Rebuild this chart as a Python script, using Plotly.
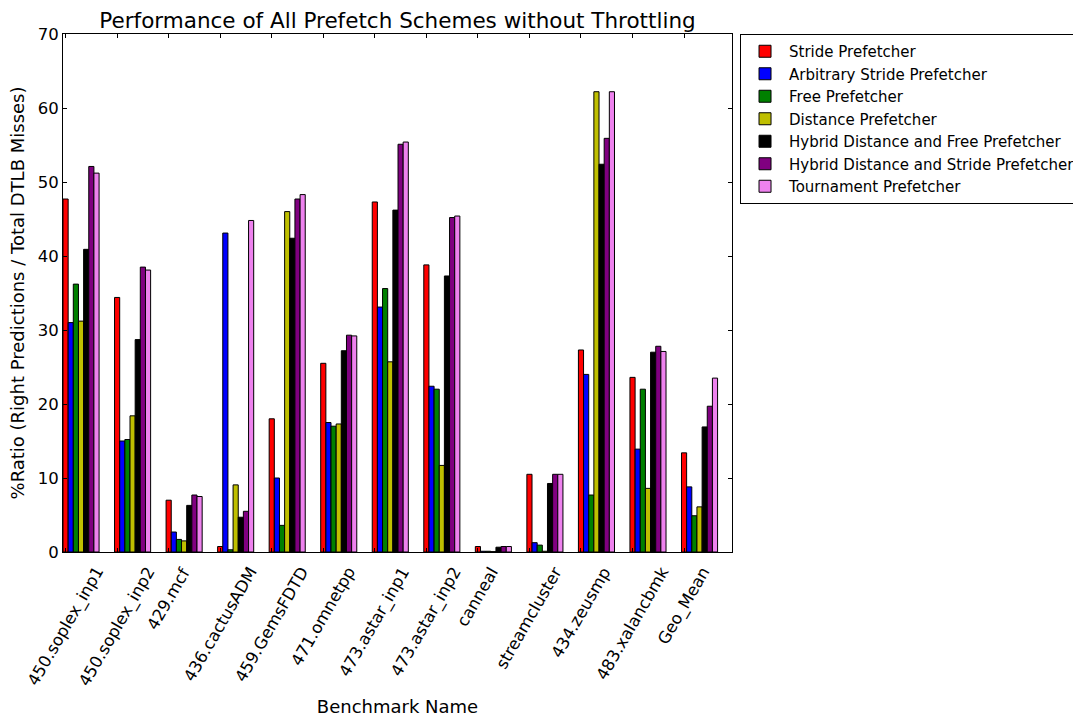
import plotly.graph_objects as go
import numpy as np

categories = ["450.soplex_inp1", "450.soplex_inp2", "429.mcf", "436.cactusADM",
              "459.GemsFDTD", "471.omnetpp", "473.astar_inp1", "473.astar_inp2",
              "canneal", "streamcluster", "434.zeusmp", "483.xalancbmk", "Geo_Mean"]

stride = [47.7, 34.4, 7.0, 0.74, 18.0, 25.5, 47.3, 38.8, 0.74, 10.5, 27.3, 23.6, 13.4]
arbitrary_stride = [31.0, 15.0, 2.7, 43.1, 10.0, 17.5, 33.1, 22.4, 0.1, 1.26, 24.0, 13.9, 8.8]
free = [36.2, 15.2, 1.7, 0.3, 3.6, 17.0, 35.6, 22.0, 0.1, 0.93, 7.7, 22.0, 4.9]
distance = [31.2, 18.4, 1.5, 9.07, 46.0, 17.3, 25.7, 11.7, 0.05, 0.1, 62.2, 8.6, 6.1]
hybrid_dist_free = [40.9, 28.7, 6.3, 4.7, 42.4, 27.2, 46.2, 37.3, 0.65, 9.26, 52.4, 27.0, 16.9]
hybrid_dist_stride = [52.1, 38.5, 7.7, 5.5, 47.7, 29.3, 55.1, 45.2, 0.74, 10.5, 55.9, 27.8, 19.7]
tournament = [51.2, 38.1, 7.5, 44.8, 48.3, 29.2, 55.4, 45.4, 0.74, 10.5, 62.2, 27.1, 23.5]

series_names = ["Stride Prefetcher", "Arbitrary Stride Prefetcher", "Free Prefetcher",
                "Distance Prefetcher", "Hybrid Distance and Free Prefetcher",
                "Hybrid Distance and Stride Prefetcher", "Tournament Prefetcher"]
series_values = [stride, arbitrary_stride, free, distance, hybrid_dist_free,
                 hybrid_dist_stride, tournament]
colors = ["#ff0000", "#0000ff", "#008000", "#bfbf00", "#000000", "#800080", "#ee82ee"]

y_ticks = [0, 10, 20, 30, 40, 50, 60, 70]

FONT = "DejaVu Sans"
bar_w = 0.1
idx = np.arange(len(categories))

fig = go.Figure()
for k, (name, vals, col) in enumerate(zip(series_names, series_values, colors)):
    fig.add_trace(go.Bar(
        x=idx + k * bar_w, y=vals, width=bar_w, name=name,
        marker=dict(color=col, line=dict(color="black", width=1)),
    ))

# category labels, centred under each tick like the original (rotated 60 deg)
for i, lab in zip(idx, categories):
    fig.add_annotation(
        x=i, xref="x", y=-9 / 518, yref="paper", text=lab, showarrow=False,
        textangle=-60, xanchor="center", yanchor="top",
        font=dict(family=FONT, size=16.5, color="black"),
    )

fig.update_layout(
    width=1073, height=718,
    margin=dict(l=63, r=341, t=34, b=166, autoexpand=False),
    paper_bgcolor="white", plot_bgcolor="white",
    barmode="overlay",
    font=dict(family=FONT, size=16.5, color="black"),
    title=dict(text="Performance of All Prefetch Schemes without Throttling",
               font=dict(family=FONT, size=21.5, color="black"),
               x=(63 + 732) / 2 / 1073, xanchor="center", y=1 - 20 / 718, yanchor="middle"),
    showlegend=True,
    legend=dict(x=1.012, xanchor="left", y=1.0, yanchor="top",
                bordercolor="black", borderwidth=1, bgcolor="white",
                font=dict(family=FONT, size=15, color="black"),
                tracegroupgap=0, itemwidth=38),
)
fig.update_xaxes(
    range=[-0.05, 12.93], tickmode="array", tickvals=list(idx),
    showticklabels=False,
    ticks="inside", ticklen=4, tickcolor="black",
    showline=True, linecolor="black", linewidth=1, mirror="ticks",
    showgrid=False, zeroline=False,
    title=dict(text="Benchmark Name", font=dict(family=FONT, size=18, color="black"), standoff=148),
)
fig.update_yaxes(
    range=[0, 70], tickmode="array", tickvals=y_ticks,
    ticks="inside", ticklen=4, tickcolor="black",
    showline=True, linecolor="black", linewidth=1, mirror="ticks",
    showgrid=False, zeroline=False,
    tickfont=dict(family=FONT, size=16.5, color="black"),
    title=dict(text="%Ratio (Right Predictions / Total DTLB Misses)",
               font=dict(family=FONT, size=18, color="black"), standoff=8),
)

fig.write_html("out.html")
